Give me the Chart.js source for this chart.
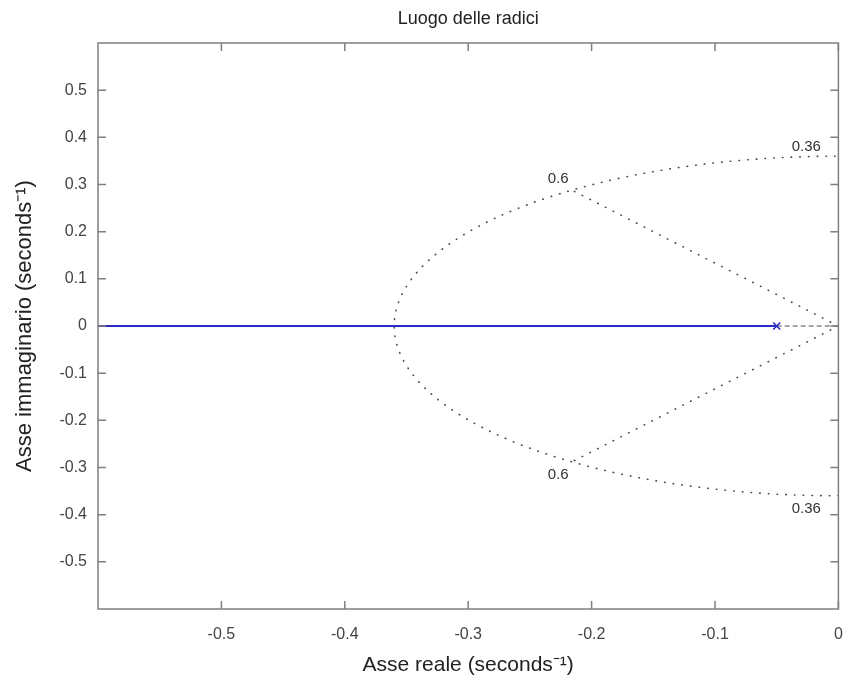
<!DOCTYPE html>
<html>
<head>
<meta charset="utf-8">
<script src="https://cdn.jsdelivr.net/npm/chart.js@4"></script>
<style>
    html, body { margin: 0; padding: 0; background: #ffffff; }
    #wrap { width: 845px; height: 684px; }
</style>
</head>
<body>
<div id="wrap"><canvas id="rootLocusChart" width="845" height="684"></canvas></div>
<script>
// Root locus data
const xTicks = [-0.5, -0.4, -0.3, -0.2, -0.1, 0];
const yTicks = [-0.5, -0.4, -0.3, -0.2, -0.1, 0, 0.1, 0.2, 0.3, 0.4, 0.5];
const xRange = [-0.6, 0];
const yRange = [-0.6, 0.6];

// branch on the real axis: from the pole to the left edge
const locusReal = [-0.05, -0.6];
const locusImag = [0, 0];

// open loop pole
const poleReal = [-0.05];
const poleImag = [0];

// sgrid: damping rays and natural frequency circle
const dampingRayUpperX = [0, -0.216];
const dampingRayUpperY = [0, 0.288];
const dampingRayLowerX = [0, -0.216];
const dampingRayLowerY = [0, -0.288];
const realAxisGridX = [-0.05, 0];
const realAxisGridY = [0, 0];
const wnCircles = [0.36];

const gridLabelText = ['0.36', '0.6', '0.6', '0.36'];
const gridLabelX = [-0.026, -0.227, -0.227, -0.026];
const gridLabelY = [0.38, 0.311, -0.316, -0.387];

const pts = (xs, ys) => xs.map((x, i) => ({ x: x, y: ys[i] }));

const FONT = "'Liberation Sans', Arial, sans-serif";

// draws the box, inward ticks, frequency circle and grid labels
const matlabAxesPlugin = {
    id: 'matlabAxes',
    beforeDatasetsDraw(chart) {
        const ctx = chart.ctx;
        const xs = chart.scales.x;
        const ys = chart.scales.y;
        const ca = chart.chartArea;
        ctx.save();
        ctx.beginPath();
        ctx.rect(ca.left, ca.top, ca.right - ca.left, ca.bottom - ca.top);
        ctx.clip();
        ctx.strokeStyle = '#4a4a4a';
        ctx.lineWidth = 1.6;
        ctx.lineCap = 'round';
        ctx.setLineDash([0.5, 8.2]);
        wnCircles.forEach(function (wn) {
            const cx = xs.getPixelForValue(0);
            const cy = ys.getPixelForValue(0);
            const rx = cx - xs.getPixelForValue(-wn);
            const ry = ys.getPixelForValue(-wn) - cy;
            ctx.beginPath();
            ctx.ellipse(cx, cy, rx, ry, 0, Math.PI / 2, Math.PI * 1.5);
            ctx.stroke();
        });
        ctx.restore();
    },
    afterDatasetsDraw(chart) {
        const ctx = chart.ctx;
        const xs = chart.scales.x;
        const ys = chart.scales.y;
        const ca = chart.chartArea;
        ctx.save();
        ctx.fillStyle = '#333333';
        ctx.font = '15px ' + FONT;
        ctx.textAlign = 'center';
        ctx.textBaseline = 'middle';
        gridLabelText.forEach(function (t, i) {
            ctx.fillText(t, xs.getPixelForValue(gridLabelX[i]), ys.getPixelForValue(gridLabelY[i]));
        });

        ctx.strokeStyle = '#7f7f7f';
        ctx.lineWidth = 1.5;
        ctx.setLineDash([]);
        const tl = 8;
        ctx.beginPath();
        xTicks.forEach(function (v) {
            const px = xs.getPixelForValue(v);
            ctx.moveTo(px, ca.bottom);
            ctx.lineTo(px, ca.bottom - tl);
            ctx.moveTo(px, ca.top);
            ctx.lineTo(px, ca.top + tl);
        });
        yTicks.forEach(function (v) {
            const py = ys.getPixelForValue(v);
            ctx.moveTo(ca.left, py);
            ctx.lineTo(ca.left + tl, py);
            ctx.moveTo(ca.right, py);
            ctx.lineTo(ca.right - tl, py);
        });
        ctx.stroke();
        ctx.strokeRect(ca.left, ca.top, ca.right - ca.left, ca.bottom - ca.top);
        ctx.restore();
    }
};

const ctx = document.getElementById('rootLocusChart');

new Chart(ctx, {
    type: 'scatter',
    data: {
        datasets: [{
            label: 'zeta grid up',
            data: pts(dampingRayUpperX, dampingRayUpperY),
            showLine: true,
            borderColor: '#4a4a4a',
            borderWidth: 1.6,
            borderDash: [0.5, 8.2],
            borderCapStyle: 'round',
            pointRadius: 0,
            order: 5
        }, {
            label: 'zeta grid low',
            data: pts(dampingRayLowerX, dampingRayLowerY),
            showLine: true,
            borderColor: '#4a4a4a',
            borderWidth: 1.6,
            borderDash: [0.5, 8.2],
            borderCapStyle: 'round',
            pointRadius: 0,
            order: 5
        }, {
            label: 'real axis grid',
            data: pts(realAxisGridX, realAxisGridY),
            showLine: true,
            borderColor: '#8a8a8a',
            borderWidth: 1.6,
            borderDash: [5, 3],
            pointRadius: 0,
            order: 4
        }, {
            label: 'luogo',
            data: pts(locusReal, locusImag),
            showLine: true,
            borderColor: '#2b2bc8',
            borderWidth: 2,
            pointRadius: 0,
            order: 2
        }, {
            label: 'polo',
            data: pts(poleReal, poleImag),
            showLine: false,
            pointStyle: 'crossRot',
            pointRadius: 5,
            borderColor: '#2b2bc8',
            pointBorderWidth: 1.6,
            order: 1
        }]
    },
    options: {
        responsive: false,
        animation: false,
        layout: {
            padding: { left: 0, right: 6, top: 0, bottom: 0 }
        },
        plugins: {
            legend: { display: false },
            tooltip: { enabled: false },
            title: {
                display: true,
                text: 'Luogo delle radici',
                fullSize: false,
                color: '#222222',
                font: { family: FONT, size: 18, weight: 'normal', lineHeight: 1.2 },
                padding: { top: 8, bottom: 13.4 }
            }
        },
        scales: {
            x: {
                type: 'linear',
                min: xRange[0],
                max: xRange[1],
                grid: { display: false, drawTicks: false },
                border: { display: false },
                afterBuildTicks: function (scale) {
                    scale.ticks = xTicks.map(v => ({ value: v }));
                },
                afterFit: function (scale) {
                    scale.height = 75;
                    scale.paddingLeft = 0;
                    scale.paddingRight = 0;
                },
                ticks: {
                    color: '#444444',
                    padding: 16,
                    font: { family: FONT, size: 16 },
                    callback: function (value) {
                        return value === 0 ? '0' : String(value);
                    }
                },
                title: {
                    display: true,
                    text: 'Asse reale (seconds⁻¹)',
                    color: '#222222',
                    font: { family: FONT, size: 21 },
                    padding: { top: 0, bottom: 6 }
                }
            },
            y: {
                type: 'linear',
                min: yRange[0],
                max: yRange[1],
                grid: { display: false, drawTicks: false },
                border: { display: false },
                afterBuildTicks: function (scale) {
                    scale.ticks = yTicks.map(v => ({ value: v }));
                },
                afterFit: function (scale) {
                    scale.width = 98;
                },
                ticks: {
                    color: '#444444',
                    padding: 11,
                    font: { family: FONT, size: 16 },
                    callback: function (value) {
                        return value === 0 ? '0' : String(value);
                    }
                },
                title: {
                    display: true,
                    text: 'Asse immaginario (seconds⁻¹)',
                    color: '#222222',
                    font: { family: FONT, size: 22 },
                    padding: { top: 12, bottom: 0 }
                }
            }
        }
    },
    plugins: [matlabAxesPlugin]
});
</script>
</body>
</html>
